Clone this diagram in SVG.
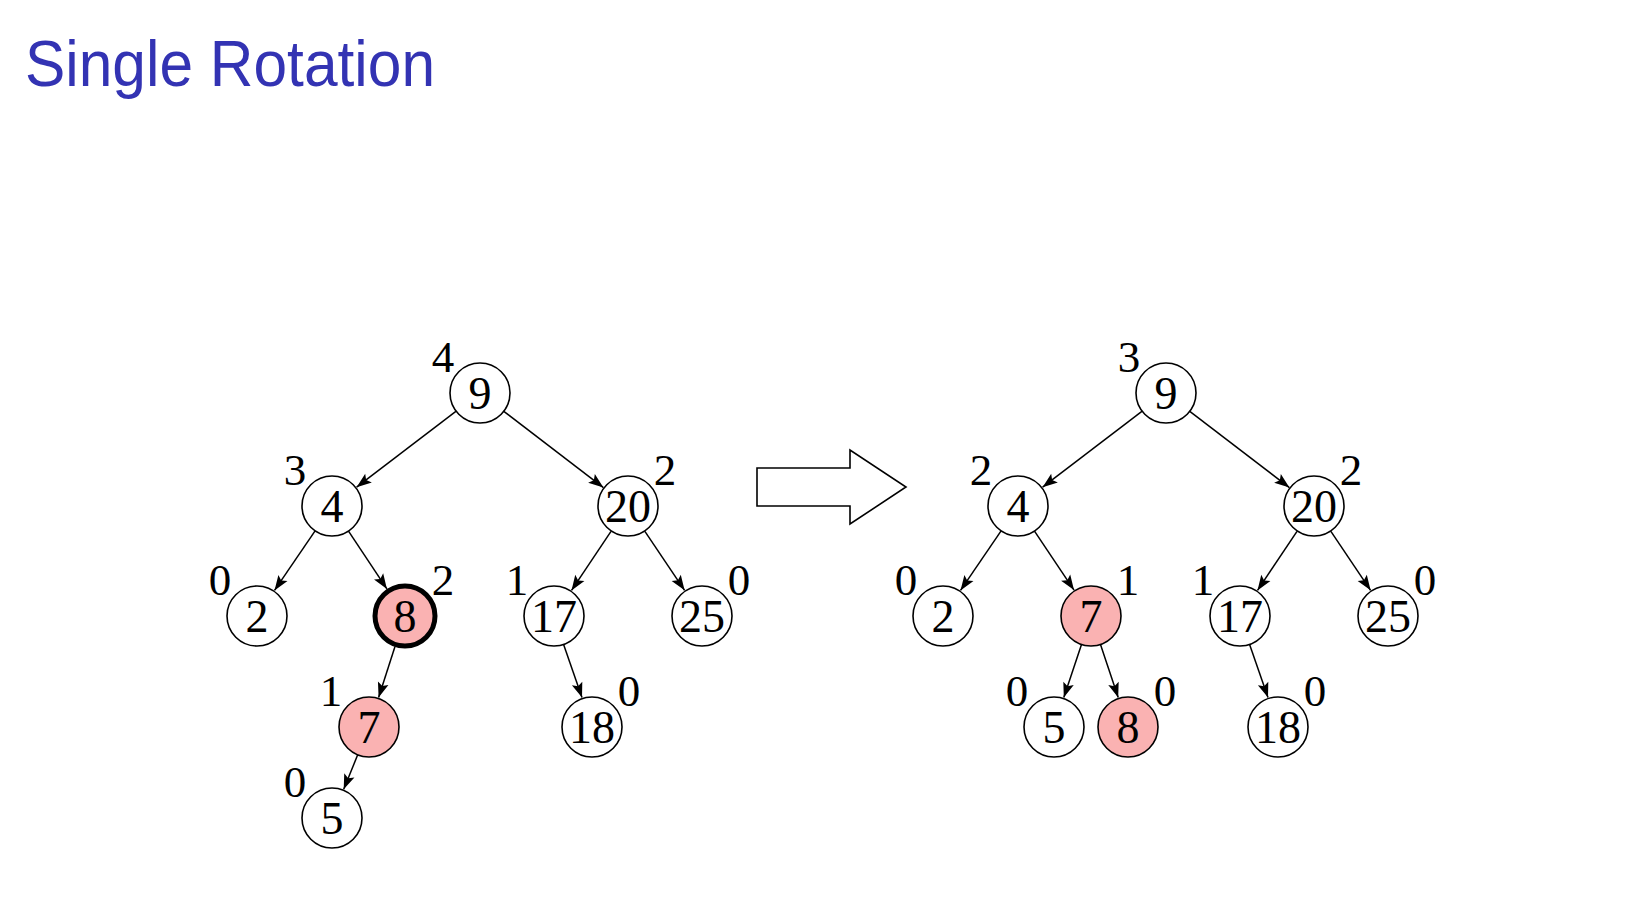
<svg xmlns="http://www.w3.org/2000/svg" width="1636" height="922" viewBox="0 0 1636 922">
<defs>
<marker id="ah" markerUnits="userSpaceOnUse" orient="auto" viewBox="-16 -7 17 14" refX="0" refY="0" markerWidth="17" markerHeight="14">
<path d="M0,0 L-15,-5.5 L-12,0 L-15,5.5 Z" fill="#000"/>
</marker>
<style>
.n circle{fill:#fff;stroke:#000;stroke-width:1.6}
.n.hl circle{fill:#fab2b2}
.n.thick circle{stroke-width:5}
.n text{font-family:"Liberation Serif","DejaVu Serif",serif;font-size:46px;text-anchor:middle;fill:#000}
.n text.lbl{font-size:45px}
.e line{stroke:#000;stroke-width:1.5;marker-end:url(#ah)}
.title{font-family:"Liberation Sans","Open Sans",sans-serif;font-size:64px;fill:#3333b3}
</style>
</defs>
<rect width="1636" height="922" fill="#fff"/>
<text class="title" x="25" y="86" textLength="410" lengthAdjust="spacingAndGlyphs">Single Rotation</text>

<g id="connectors" class="e">
<line x1="456.2" y1="411.2" x2="356.6" y2="487.2"/>
<line x1="503.8" y1="411.3" x2="603.4" y2="487.6"/>
<line x1="315.1" y1="530.8" x2="274.5" y2="590.4"/>
<line x1="348.5" y1="531.1" x2="386.9" y2="588.9"/>
<line x1="611.0" y1="531.3" x2="571.5" y2="590.4"/>
<line x1="644.9" y1="531.3" x2="684.6" y2="590.3"/>
<line x1="395.0" y1="646.4" x2="378.6" y2="697.5"/>
<line x1="357.7" y1="754.8" x2="343.7" y2="789.3"/>
<line x1="563.6" y1="644.4" x2="582.0" y2="697.6"/>

<line x1="1142.2" y1="411.2" x2="1042.6" y2="487.2"/>
<line x1="1189.8" y1="411.3" x2="1289.4" y2="487.6"/>
<line x1="1001.1" y1="530.8" x2="960.5" y2="590.4"/>
<line x1="1034.5" y1="531.1" x2="1074.0" y2="590.1"/>
<line x1="1297.0" y1="531.3" x2="1257.5" y2="590.4"/>
<line x1="1330.9" y1="531.3" x2="1370.6" y2="590.3"/>
<line x1="1081.5" y1="644.5" x2="1063.8" y2="697.6"/>
<line x1="1100.5" y1="644.5" x2="1118.2" y2="697.6"/>
<line x1="1249.6" y1="644.4" x2="1268.0" y2="697.6"/>
</g>

<g id="bigarrow">
<polygon points="757,468 850,468 850,450 906,487 850,524 850,506 757,506" fill="#fff" stroke="#000" stroke-width="1.6"/>
</g>

<!-- Left tree -->
<g id="L9" class="n"><circle cx="480" cy="393" r="30"/><text x="480" y="409">9</text><text class="lbl" x="443" y="372">4</text></g>
<g id="L4" class="n"><circle cx="332" cy="506" r="30"/><text x="332" y="522">4</text><text class="lbl" x="295" y="485">3</text></g>
<g id="L20" class="n"><circle cx="628" cy="506" r="30"/><text x="628" y="522">20</text><text class="lbl" x="665" y="485">2</text></g>
<g id="L2" class="n"><circle cx="257" cy="616" r="30"/><text x="257" y="632">2</text><text class="lbl" x="220" y="595">0</text></g>
<g id="L8" class="n hl thick"><circle cx="405" cy="616" r="30"/><text x="405" y="632">8</text><text class="lbl" x="443" y="595">2</text></g>
<g id="L17" class="n"><circle cx="554" cy="616" r="30"/><text x="554" y="632">17</text><text class="lbl" x="517" y="595">1</text></g>
<g id="L25" class="n"><circle cx="702" cy="616" r="30"/><text x="702" y="632">25</text><text class="lbl" x="739" y="595">0</text></g>
<g id="L7" class="n hl"><circle cx="369" cy="727" r="30"/><text x="369" y="743">7</text><text class="lbl" x="331" y="706">1</text></g>
<g id="L18" class="n"><circle cx="592" cy="727" r="30"/><text x="592" y="743">18</text><text class="lbl" x="629" y="706">0</text></g>
<g id="L5" class="n"><circle cx="332" cy="818" r="30"/><text x="332" y="834">5</text><text class="lbl" x="295" y="797">0</text></g>

<!-- Right tree -->
<g id="R9" class="n"><circle cx="1166" cy="393" r="30"/><text x="1166" y="409">9</text><text class="lbl" x="1129" y="372">3</text></g>
<g id="R4" class="n"><circle cx="1018" cy="506" r="30"/><text x="1018" y="522">4</text><text class="lbl" x="981" y="485">2</text></g>
<g id="R20" class="n"><circle cx="1314" cy="506" r="30"/><text x="1314" y="522">20</text><text class="lbl" x="1351" y="485">2</text></g>
<g id="R2" class="n"><circle cx="943" cy="616" r="30"/><text x="943" y="632">2</text><text class="lbl" x="906" y="595">0</text></g>
<g id="R7" class="n hl"><circle cx="1091" cy="616" r="30"/><text x="1091" y="632">7</text><text class="lbl" x="1128" y="595">1</text></g>
<g id="R17" class="n"><circle cx="1240" cy="616" r="30"/><text x="1240" y="632">17</text><text class="lbl" x="1203" y="595">1</text></g>
<g id="R25" class="n"><circle cx="1388" cy="616" r="30"/><text x="1388" y="632">25</text><text class="lbl" x="1425" y="595">0</text></g>
<g id="R5" class="n"><circle cx="1054" cy="727" r="30"/><text x="1054" y="743">5</text><text class="lbl" x="1017" y="706">0</text></g>
<g id="R8" class="n hl"><circle cx="1128" cy="727" r="30"/><text x="1128" y="743">8</text><text class="lbl" x="1165" y="706">0</text></g>
<g id="R18" class="n"><circle cx="1278" cy="727" r="30"/><text x="1278" y="743">18</text><text class="lbl" x="1315" y="706">0</text></g>
</svg>
